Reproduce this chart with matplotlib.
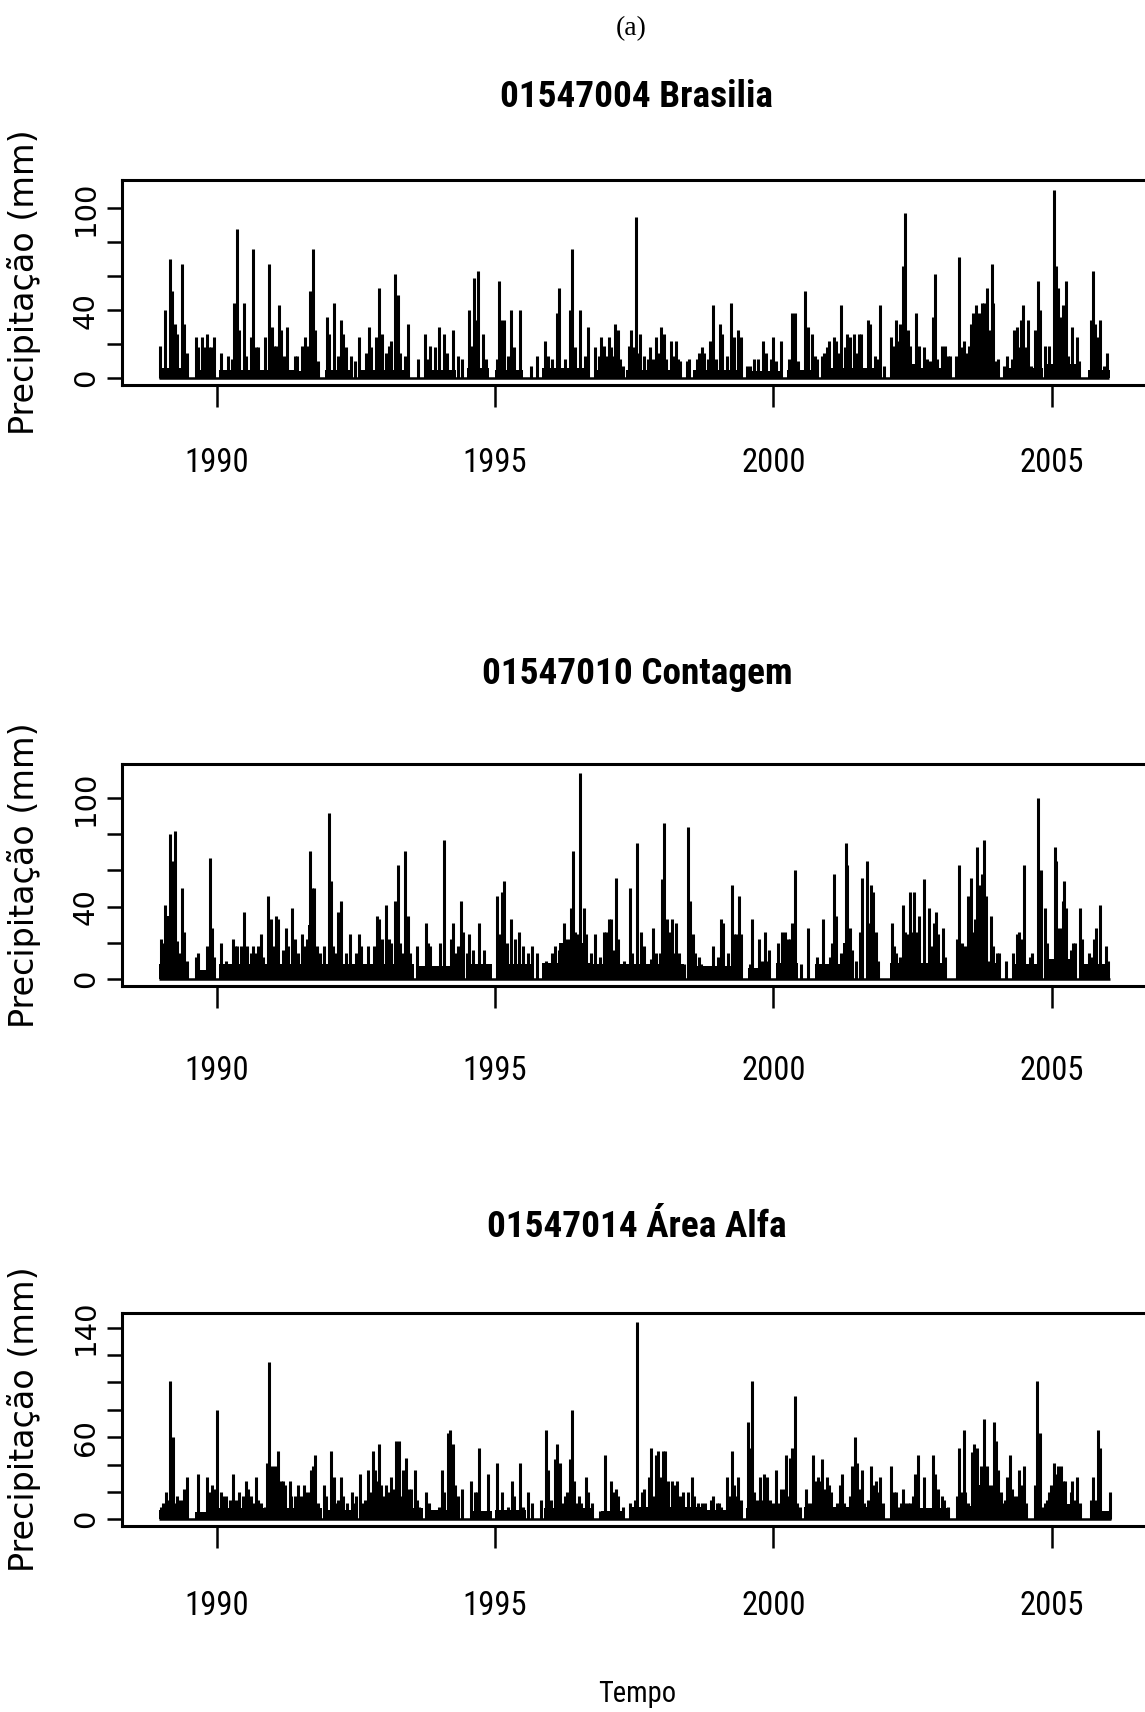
import os
import matplotlib
matplotlib.use("Agg")
import matplotlib.pyplot as plt
from matplotlib import font_manager as fm
from matplotlib.font_manager import FontProperties
from matplotlib.textpath import TextPath

# ---- 01547004 Brasilia: daily rain spikes (decimal year, mm) ----
bsb_t = [1988.99, 1989.08, 1989.16, 1989.20, 1989.25, 1989.29, 1989.38, 1989.41, 1989.46, 1989.63, 1989.67, 1989.73, 1989.77, 1989.82, 1989.86, 1989.90, 1989.95,
         1990.08, 1990.20, 1990.27, 1990.32, 1990.36, 1990.40, 1990.49, 1990.53, 1990.61, 1990.66, 1990.70, 1990.75, 1990.86, 1990.94, 1990.99,
         1991.03, 1991.07, 1991.12, 1991.16, 1991.21, 1991.27, 1991.40, 1991.44, 1991.53, 1991.58, 1991.62, 1991.68, 1991.73, 1991.77, 1991.82, 1991.98,
         1992.02, 1992.10, 1992.18, 1992.23, 1992.27, 1992.32, 1992.41, 1992.49, 1992.55, 1992.68, 1992.73, 1992.77, 1992.86, 1992.92, 1992.97,
         1993.04, 1993.10, 1993.14, 1993.21, 1993.26, 1993.30, 1993.38, 1993.44, 1993.62, 1993.75, 1993.79, 1993.84, 1993.93, 1993.99,
         1994.09, 1994.13, 1994.25, 1994.34, 1994.41, 1994.53, 1994.58, 1994.62, 1994.66, 1994.70, 1994.79, 1994.84,
         1995.03, 1995.07, 1995.11, 1995.16, 1995.23, 1995.29, 1995.34, 1995.45, 1995.64, 1995.75, 1995.90, 1995.95,
         1996.02, 1996.12, 1996.15, 1996.26, 1996.35, 1996.39, 1996.43, 1996.52, 1996.61, 1996.67, 1996.79, 1996.87, 1996.91, 1996.95, 1996.99,
         1997.04, 1997.08, 1997.12, 1997.16, 1997.20, 1997.24, 1997.30, 1997.41, 1997.45, 1997.49, 1997.53, 1997.57, 1997.61, 1997.67, 1997.74, 1997.78, 1997.83, 1997.90, 1997.94, 1997.99,
         1998.03, 1998.07, 1998.16, 1998.21, 1998.25, 1998.29, 1998.33, 1998.45, 1998.49, 1998.62, 1998.67, 1998.72, 1998.76, 1998.83, 1998.86, 1998.92, 1998.96,
         1999.04, 1999.08, 1999.16, 1999.24, 1999.29, 1999.37, 1999.41, 1999.52, 1999.58, 1999.66, 1999.73, 1999.82, 1999.87, 1999.95,
         2000.00, 2000.05, 2000.13, 2000.28, 2000.33, 2000.38, 2000.45, 2000.57, 2000.62, 2000.70, 2000.74, 2000.78, 2000.87, 2000.91, 2000.97,
         2001.00, 2001.08, 2001.12, 2001.16, 2001.21, 2001.28, 2001.31, 2001.33, 2001.37, 2001.44, 2001.49, 2001.53, 2001.58, 2001.70, 2001.74, 2001.82, 2001.86, 2001.91, 2001.98,
         2002.11, 2002.15, 2002.20, 2002.25, 2002.28, 2002.32, 2002.37, 2002.41, 2002.45, 2002.57, 2002.61, 2002.71, 2002.76, 2002.81, 2002.86, 2002.90, 2002.94,
         2003.03, 2003.08, 2003.13, 2003.17, 2003.28, 2003.33, 2003.37, 2003.42, 2003.46, 2003.52, 2003.55, 2003.59, 2003.63, 2003.67, 2003.72, 2003.75, 2003.79, 2003.83, 2003.87, 2003.92, 2003.95,
         2004.00, 2004.04, 2004.15, 2004.20, 2004.29, 2004.33, 2004.37, 2004.41, 2004.45, 2004.49, 2004.53, 2004.58, 2004.62, 2004.69, 2004.75, 2004.78, 2004.87, 2004.95,
         2005.04, 2005.08, 2005.12, 2005.16, 2005.20, 2005.25, 2005.30, 2005.36, 2005.45, 2005.49, 2005.70, 2005.74, 2005.78, 2005.82, 2005.87, 2005.93, 2006.00]
bsb_v = [19, 40, 70, 51, 32, 26, 67, 32, 15, 24, 18, 24, 18, 26, 18, 18, 24,
         15, 13, 11, 44, 88, 28, 44, 13, 24, 76, 18, 18, 24, 67, 30,
         19, 19, 43, 28, 13, 30, 13, 13, 19, 24, 19, 51, 76, 28, 10, 36,
         26, 44, 13, 34, 26, 18, 13, 10, 24, 15, 30, 18, 24, 53, 26,
         15, 19, 22, 61, 49, 15, 13, 32, 11, 26, 11, 19, 18, 30,
         26, 15, 28, 13, 11, 40, 19, 59, 34, 63, 26, 11,
         11, 57, 34, 34, 13, 40, 18, 40, 7, 13, 22, 13,
         11, 38, 53, 11, 40, 76, 18, 40, 13, 30, 18, 13, 24, 19, 13,
         24, 18, 13, 32, 28, 11, 7, 19, 28, 18, 95, 15, 26, 13, 11, 18, 11, 24, 15, 30,
         26, 11, 22, 13, 22, 11, 10, 10, 11, 11, 15, 18, 15, 11, 22, 43, 11,
         32, 26, 13, 44, 24, 28, 24, 7, 7, 11, 11, 22, 15, 11,
         24, 10, 22, 11, 38, 38, 10, 51, 30, 26, 13, 11, 13, 15, 18,
         22, 24, 22, 15, 43, 18, 15, 26, 24, 26, 15, 26, 26, 34, 32, 13, 11, 43, 7,
         24, 19, 34, 22, 32, 66, 97, 28, 19, 38, 19, 18, 11, 10, 36, 61, 11,
         19, 19, 13, 13, 13, 71, 18, 22, 15, 19, 32, 38, 43, 38, 38, 44, 44, 53, 28, 67, 44,
         10, 11, 7, 13, 11, 28, 30, 18, 34, 43, 18, 34, 7, 28, 57, 40, 19, 19,
         111, 66, 53, 36, 43, 57, 13, 30, 24, 10, 34, 63, 32, 24, 34, 7, 15]
# dense low-rain stretches: start, end, typical height (mm)
bsb_wet_start = [1988.96, 1989.62, 1990.05, 1990.55, 1991.47, 1991.95, 1992.53, 1993.72, 1994.50, 1995.00, 1995.85, 1996.80, 1997.36,
                 1998.55, 1999.62, 2000.25, 2000.85, 2002.10, 2002.65, 2003.30, 2003.60, 2004.22, 2004.90, 2005.05, 2005.65]
bsb_wet_end = [1989.46, 1989.96, 1990.50, 1991.40, 1991.80, 1992.45, 1993.45, 1994.30, 1994.90, 1995.50, 1996.70, 1997.28, 1998.35,
               1999.45, 2000.15, 2000.80, 2001.95, 2002.62, 2003.10, 2003.95, 2003.82, 2004.85, 2005.45, 2005.22, 2006.04]
bsb_wet_level = [6, 5, 5, 5, 4, 5, 5, 5, 6, 5, 6, 5, 5, 5, 4, 5, 6, 8, 6, 10, 28, 6, 8, 18, 5]

# ---- 01547010 Contagem ----
cont_t = [1989.00, 1989.04, 1989.08, 1989.12, 1989.17, 1989.21, 1989.25, 1989.29, 1989.33, 1989.38, 1989.41, 1989.46, 1989.63, 1989.66, 1989.82, 1989.88, 1989.91, 1989.96,
          1990.08, 1990.16, 1990.29, 1990.33, 1990.37, 1990.44, 1990.49, 1990.54, 1990.61, 1990.65, 1990.70, 1990.74, 1990.79, 1990.83, 1990.92, 1990.98,
          1991.03, 1991.07, 1991.11, 1991.19, 1991.24, 1991.29, 1991.36, 1991.41, 1991.46, 1991.53, 1991.58, 1991.62, 1991.68, 1991.72, 1991.75, 1991.81, 1991.85, 1991.93,
          1992.02, 1992.05, 1992.09, 1992.13, 1992.18, 1992.23, 1992.32, 1992.40, 1992.51, 1992.56, 1992.60, 1992.72, 1992.83, 1992.88, 1992.92, 1992.97,
          1993.05, 1993.09, 1993.13, 1993.21, 1993.26, 1993.30, 1993.34, 1993.39, 1993.43, 1993.47, 1993.60, 1993.76, 1993.80, 1993.84,
          1994.01, 1994.08, 1994.21, 1994.25, 1994.30, 1994.34, 1994.39, 1994.43, 1994.49, 1994.54, 1994.61, 1994.71, 1994.80,
          1995.04, 1995.08, 1995.12, 1995.17, 1995.21, 1995.29, 1995.35, 1995.43, 1995.51, 1995.60, 1995.66, 1995.75, 1995.91,
          1996.03, 1996.08, 1996.15, 1996.24, 1996.28, 1996.32, 1996.37, 1996.40, 1996.44, 1996.49, 1996.53, 1996.60, 1996.64, 1996.72, 1996.79, 1996.89, 1996.96, 1996.99,
          1997.04, 1997.09, 1997.12, 1997.17, 1997.20, 1997.31, 1997.43, 1997.46, 1997.55, 1997.63, 1997.67, 1997.80, 1997.84, 1997.90, 1997.96,
          1998.00, 1998.04, 1998.08, 1998.12, 1998.17, 1998.20, 1998.25, 1998.31, 1998.40, 1998.46, 1998.50, 1998.55, 1998.60, 1998.66, 1998.70, 1998.92,
          1999.00, 1999.05, 1999.09, 1999.18, 1999.25, 1999.29, 1999.33, 1999.38, 1999.41, 1999.58, 1999.62, 1999.74, 1999.80, 1999.85, 1999.89, 1999.92,
          2000.09, 2000.16, 2000.20, 2000.26, 2000.30, 2000.34, 2000.38, 2000.50, 2000.63, 2000.79, 2000.89,
          2001.01, 2001.05, 2001.09, 2001.13, 2001.22, 2001.26, 2001.30, 2001.33, 2001.37, 2001.42, 2001.49, 2001.56, 2001.59, 2001.68, 2001.71, 2001.75, 2001.79, 2001.84, 2001.88,
          2002.13, 2002.16, 2002.20, 2002.28, 2002.33, 2002.37, 2002.40, 2002.45, 2002.49, 2002.53, 2002.58, 2002.62, 2002.70, 2002.80, 2002.84, 2002.88, 2002.92, 2002.96,
          2003.04, 2003.08, 2003.29, 2003.34, 2003.39, 2003.44, 2003.49, 2003.55, 2003.58, 2003.62, 2003.66, 2003.70, 2003.74, 2003.78, 2003.82, 2003.86, 2003.91, 2003.95,
          2004.01, 2004.06, 2004.17, 2004.30, 2004.38, 2004.42, 2004.46, 2004.50, 2004.60, 2004.64, 2004.76, 2004.80, 2004.87, 2004.91,
          2005.05, 2005.08, 2005.12, 2005.16, 2005.20, 2005.22, 2005.26, 2005.34, 2005.38, 2005.42, 2005.50, 2005.54, 2005.67, 2005.71, 2005.75, 2005.79, 2005.87, 2005.97, 2006.01]
cont_v = [22, 20, 41, 31, 80, 65, 82, 21, 14, 50, 26, 10, 12, 14, 18, 67, 28, 12,
          20, 10, 22, 18, 18, 18, 37, 18, 14, 18, 14, 18, 25, 12, 46, 33,
          18, 35, 33, 16, 28, 18, 39, 22, 14, 25, 18, 22, 71, 50, 50, 18, 14, 18,
          92, 54, 18, 14, 37, 43, 14, 25, 14, 25, 18, 18, 18, 35, 33, 22,
          41, 22, 20, 43, 63, 20, 14, 71, 35, 14, 18, 31, 20, 18,
          20, 77, 22, 31, 14, 18, 43, 26, 14, 25, 16, 31, 16,
          46, 25, 48, 54, 20, 33, 22, 26, 18, 14, 18, 14, 10,
          14, 18, 16, 31, 22, 22, 39, 71, 26, 25, 114, 39, 25, 14, 25, 12, 26, 26,
          33, 33, 16, 56, 22, 10, 50, 14, 75, 26, 18, 11, 28, 14, 14,
          55, 86, 33, 26, 33, 14, 31, 14, 8, 84, 43, 25, 14, 12, 8, 18,
          12, 33, 31, 14, 52, 25, 25, 46, 25, 8, 33, 22, 10, 26, 10, 16,
          20, 26, 26, 22, 22, 31, 60, 8, 28, 12, 33,
          12, 20, 58, 35, 14, 16, 75, 63, 28, 16, 10, 26, 56, 65, 31, 52, 48, 26, 10,
          31, 18, 14, 12, 41, 26, 25, 48, 26, 48, 26, 35, 55, 39, 18, 31, 37, 25,
          28, 12, 22, 63, 20, 18, 46, 56, 26, 33, 73, 52, 58, 77, 46, 10, 35, 18,
          14, 14, 10, 14, 25, 26, 22, 63, 12, 14, 100, 60, 39, 20,
          73, 65, 28, 28, 43, 54, 39, 16, 20, 20, 39, 22, 14, 12, 22, 28, 41, 18, 10]
cont_wet_start = [1988.96, 1989.08, 1989.62, 1990.05, 1990.86, 1991.64, 1991.88, 1992.62, 1993.62, 1994.50, 1995.02, 1995.85, 1996.15,
                  1996.75, 1997.50, 1998.45, 1999.55, 2000.05, 2000.75, 2001.25, 2002.10, 2003.30, 2003.60, 2004.30, 2004.92, 2005.55]
cont_wet_end = [1989.46, 1989.24, 1989.96, 1990.82, 1991.60, 1991.78, 1992.55, 1993.55, 1994.45, 1994.95, 1995.65, 1996.70, 1996.60,
                1997.45, 1998.40, 1999.40, 1999.95, 2000.45, 2001.20, 2001.36, 2003.08, 2004.00, 2003.86, 2004.85, 2005.45, 2006.04]
cont_wet_level = [8, 35, 5, 8, 8, 30, 8, 8, 7, 8, 8, 9, 20, 8, 8, 7, 6, 9, 8, 20, 9, 9, 28, 8, 11, 8]

# ---- 01547014 Area Alfa ----
alfa_t = [1989.00, 1989.04, 1989.09, 1989.13, 1989.17, 1989.21, 1989.25, 1989.29, 1989.33, 1989.37, 1989.42, 1989.46, 1989.66, 1989.72, 1989.83, 1989.87, 1989.91, 1989.95,
          1990.00, 1990.07, 1990.12, 1990.16, 1990.24, 1990.29, 1990.34, 1990.41, 1990.47, 1990.53, 1990.57, 1990.62, 1990.65, 1990.70, 1990.74, 1990.79, 1990.86, 1990.90, 1990.94,
          1991.00, 1991.04, 1991.10, 1991.15, 1991.19, 1991.23, 1991.31, 1991.34, 1991.41, 1991.46, 1991.51, 1991.56, 1991.60, 1991.65, 1991.69, 1991.73, 1991.77, 1991.82, 1991.93, 1991.97,
          1992.06, 1992.10, 1992.14, 1992.18, 1992.23, 1992.27, 1992.34, 1992.43, 1992.47, 1992.51, 1992.57, 1992.61, 1992.66, 1992.72, 1992.76, 1992.80, 1992.84, 1992.88, 1992.92, 1992.96,
          1993.01, 1993.05, 1993.09, 1993.14, 1993.18, 1993.23, 1993.27, 1993.31, 1993.35, 1993.40, 1993.45, 1993.49, 1993.56, 1993.60, 1993.64, 1993.76, 1993.82, 1993.99,
          1994.04, 1994.09, 1994.16, 1994.20, 1994.24, 1994.28, 1994.34, 1994.40, 1994.57, 1994.64, 1994.67, 1994.71, 1994.88,
          1995.04, 1995.12, 1995.23, 1995.30, 1995.34, 1995.45, 1995.50, 1995.59, 1995.67, 1995.83, 1995.91, 1995.95,
          1996.00, 1996.07, 1996.11, 1996.16, 1996.21, 1996.25, 1996.30, 1996.34, 1996.38, 1996.42, 1996.47, 1996.51, 1996.55, 1996.64, 1996.67, 1996.74, 1996.89, 1996.97,
          1997.09, 1997.13, 1997.17, 1997.21, 1997.29, 1997.43, 1997.47, 1997.51, 1997.55, 1997.59, 1997.64, 1997.68, 1997.76, 1997.80, 1997.84, 1997.89, 1997.92, 1997.96,
          1998.01, 1998.06, 1998.11, 1998.17, 1998.22, 1998.26, 1998.30, 1998.35, 1998.38, 1998.46, 1998.54, 1998.58, 1998.64, 1998.72, 1998.77, 1998.88, 1998.92, 1998.98,
          1999.02, 1999.06, 1999.16, 1999.20, 1999.26, 1999.30, 1999.34, 1999.37, 1999.42, 1999.54, 1999.58, 1999.62, 1999.66, 1999.70, 1999.76, 1999.80, 1999.84, 1999.88, 1999.93,
          2000.00, 2000.05, 2000.09, 2000.13, 2000.19, 2000.22, 2000.27, 2000.30, 2000.34, 2000.38, 2000.42, 2000.47, 2000.58, 2000.63, 2000.67, 2000.71, 2000.75, 2000.80, 2000.83, 2000.88, 2000.92, 2000.96,
          2001.00, 2001.04, 2001.15, 2001.19, 2001.23, 2001.27, 2001.37, 2001.42, 2001.47, 2001.51, 2001.55, 2001.59, 2001.63, 2001.70, 2001.75, 2001.79, 2001.85, 2001.89, 2001.91, 2001.97,
          2002.12, 2002.16, 2002.21, 2002.25, 2002.29, 2002.33, 2002.37, 2002.41, 2002.45, 2002.51, 2002.55, 2002.59, 2002.71, 2002.87, 2002.91, 2002.95,
          2003.03, 2003.07, 2003.13, 2003.29, 2003.33, 2003.37, 2003.42, 2003.45, 2003.50, 2003.57, 2003.61, 2003.65, 2003.69, 2003.73, 2003.79, 2003.83, 2003.87, 2003.92, 2003.96,
          2004.00, 2004.04, 2004.08, 2004.12, 2004.16, 2004.20, 2004.25, 2004.29, 2004.33, 2004.37, 2004.41, 2004.45, 2004.50, 2004.54, 2004.70, 2004.74, 2004.78, 2004.82, 2004.87, 2004.91, 2004.95, 2004.99,
          2005.04, 2005.08, 2005.12, 2005.16, 2005.20, 2005.24, 2005.34, 2005.37, 2005.40, 2005.46, 2005.50, 2005.70, 2005.74, 2005.80, 2005.83, 2005.86, 2005.90, 2006.00, 2006.04]
alfa_v = [9, 12, 20, 14, 101, 60, 12, 17, 14, 14, 22, 31, 33, 5, 31, 20, 25, 22,
          80, 20, 17, 17, 14, 33, 14, 20, 17, 28, 22, 17, 12, 31, 14, 12, 9, 41, 115,
          39, 39, 50, 28, 28, 25, 28, 17, 17, 25, 17, 25, 20, 20, 36, 39, 47, 12, 25, 17,
          50, 31, 12, 14, 31, 17, 12, 20, 12, 17, 33, 12, 14, 36, 20, 50, 36, 28, 55, 25,
          17, 25, 20, 31, 22, 57, 57, 17, 36, 45, 22, 22, 36, 14, 9, 20, 12, 9,
          36, 20, 63, 65, 55, 25, 17, 22, 28, 20, 20, 52, 33,
          41, 20, 9, 28, 17, 41, 9, 20, 12, 14, 65, 36,
          14, 44, 55, 41, 12, 17, 20, 44, 80, 28, 12, 17, 12, 31, 20, 12, 6, 47,
          28, 20, 22, 17, 9, 12, 9, 14, 144, 6, 20, 22, 31, 52, 17, 47, 50, 31,
          50, 50, 28, 28, 25, 28, 17, 17, 20, 20, 31, 17, 12, 12, 12, 14, 17, 12,
          12, 9, 31, 17, 50, 25, 17, 31, 14, 71, 52, 101, 20, 14, 31, 14, 33, 31, 14,
          12, 36, 12, 22, 22, 47, 17, 45, 52, 90, 12, 9, 22, 12, 12, 47, 28, 31, 28, 44, 22, 31,
          25, 20, 12, 25, 33, 12, 17, 39, 60, 41, 22, 36, 12, 14, 39, 25, 28, 20, 31, 12,
          39, 20, 20, 9, 12, 22, 12, 12, 12, 17, 33, 47, 31, 47, 33, 22,
          17, 14, 9, 17, 52, 20, 65, 20, 12, 49, 55, 52, 6, 39, 73, 39, 25, 25, 71,
          57, 36, 20, 12, 14, 31, 47, 22, 17, 17, 36, 25, 39, 12, 25, 101, 63, 9, 12, 14, 20, 25,
          41, 33, 39, 39, 28, 28, 20, 28, 14, 31, 12, 14, 31, 14, 65, 52, 6, 6, 20]
alfa_wet_start = [1988.96, 1989.62, 1990.05, 1990.88, 1991.95, 1992.55, 1993.85, 1994.55, 1995.00, 1995.88, 1996.90, 1997.42,
                  1998.80, 1999.50, 2000.00, 2000.55, 2001.30, 2002.10, 2002.50, 2003.30, 2003.55, 2004.15, 2004.95, 2005.68]
alfa_wet_end = [1989.46, 1989.96, 1990.85, 1991.90, 1992.50, 1993.70, 1994.37, 1994.95, 1995.55, 1996.75, 1997.34, 1998.70,
                1999.45, 1999.95, 2000.40, 2001.25, 2001.90, 2002.45, 2003.15, 2004.10, 2003.85, 2004.55, 2005.50, 2006.04]
alfa_wet_level = [7, 5, 8, 8, 7, 8, 7, 6, 7, 8, 6, 9, 7, 8, 9, 9, 9, 7, 8, 10, 25, 9, 11, 6]

year_ticks = [1990, 1995, 2000, 2005]

W, H = 1145, 1712


def find_font(keys):
    # look for an installed narrow / condensed face by file name
    files = {os.path.basename(f.fname).lower().replace("-", "").replace("_", "").replace(" ", ""): f.fname
             for f in fm.fontManager.ttflist}
    for key in keys:
        if key in files:
            return FontProperties(fname=files[key])
    return None


narrow = find_font(["liberationsansnarrowregular.ttf", "robotocondensedregular.ttf",
                    "dejavusanscondensed.ttf", "notosanscondensed.ttf",
                    "opensanscondensedregular.ttf"]) or FontProperties(family="Liberation Sans")
narrow_bold = find_font(["liberationsansnarrowbold.ttf", "robotocondensedbold.ttf",
                         "dejavusanscondensedbold.ttf", "notosanscondensedbold.ttf",
                         "opensanscondensedbold.ttf"]) or FontProperties(family="Liberation Sans", weight="bold")


def fit_size(text, prop, target_px, max_size):
    w = TextPath((0, 0), text, size=100, prop=prop).get_extents().width
    return min(max_size, target_px * 72.0 / w)


# the source glyphs are tall and narrow; go a little past the width match
title_size = fit_size("01547004 Brasilia", narrow_bold, 270, 36)
year_size = fit_size("1990", narrow, 60, 28)
tempo_size = fit_size("Tempo", narrow, 76, 28)

fig = plt.figure(figsize=(W / 100, H / 100), dpi=100)

left_px, right_px = 122, 1152
x_min, x_max = 1988.30, 2006.80

panels = [
    ("01547004 Brasilia", bsb_t, bsb_v, bsb_wet_start, bsb_wet_end, bsb_wet_level,
     (180, 385), (-4.1, 116.6), 97, 29, [0, 20, 40, 60, 80, 100], ["0", "", "40", "", "", "100"]),
    ("01547010 Contagem", cont_t, cont_v, cont_wet_start, cont_wet_end, cont_wet_level,
     (764, 986), (-4.0, 118.9), 674, 34, [0, 20, 40, 60, 80, 100], ["0", "", "40", "", "", "100"]),
    ("01547014 Área Alfa", alfa_t, alfa_v, alfa_wet_start, alfa_wet_end, alfa_wet_level,
     (1313, 1526), (-4.9, 150.7), 1227, 30, [0, 20, 40, 60, 80, 100, 120, 140],
     ["0", "", "", "60", "", "", "", "140"]),
]

for title, t, v, ws, we, wl, (top, bot), ylim, title_y, xpad, yt, ylab in panels:
    ax = fig.add_axes([left_px / W, 1 - bot / H, (right_px - left_px) / W, (bot - top) / H])

    # dense low-value mass, then the zero line, then the daily spikes
    widths = [e - s for s, e in zip(ws, we)]
    ax.bar(ws, wl, width=widths, align="edge", color="black", linewidth=0)
    ax.hlines(0, min(t) - 0.03, max(t) + 0.03, color="black", linewidth=1.8)
    ax.vlines(t, 0, v, color="black", linewidth=2.2)

    ax.set_xlim(x_min, x_max)
    ax.set_ylim(*ylim)

    ax.set_xticks(year_ticks)
    ax.set_xticklabels([str(y) for y in year_ticks], fontproperties=narrow, fontsize=year_size)
    ax.set_yticks(yt)
    ax.set_yticklabels(ylab, rotation=90, va="center", fontfamily="DejaVu Sans", fontsize=21)
    ax.tick_params(axis="x", length=16, width=1.8, pad=xpad)
    ax.tick_params(axis="y", length=11, width=1.8, pad=5)

    for side in ["left", "top", "bottom"]:
        ax.spines[side].set_linewidth(2.2)
    ax.spines["right"].set_visible(False)

    cx = (left_px + right_px) / 2 / W
    fig.text(cx, 1 - title_y / H, title, ha="center", va="center",
             fontproperties=narrow_bold, fontsize=title_size)
    fig.text(24 / W, 1 - (top + bot) / 2 / H, "Precipitação (mm)", rotation=90,
             ha="center", va="center", fontsize=24, fontfamily="DejaVu Sans")

fig.text(631 / W, 1 - 29 / H, "(a)", ha="center", va="center", fontsize=20,
         fontfamily="Liberation Serif")
fig.text((left_px + right_px) / 2 / W, 1 - 1694 / H, "Tempo", ha="center", va="center",
         fontproperties=narrow, fontsize=tempo_size)

fig.savefig("out.png", dpi=100)
